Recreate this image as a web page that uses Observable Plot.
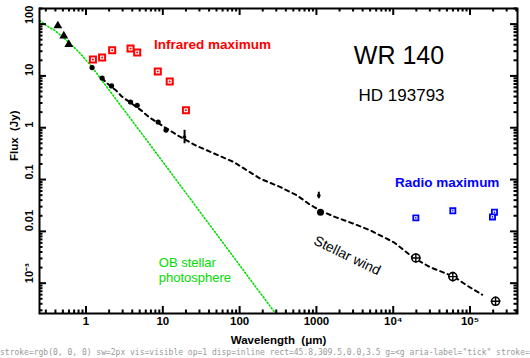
<!DOCTYPE html>
<html><head><meta charset="utf-8">
<script src="https://cdn.jsdelivr.net/npm/d3@7"></script>
<script src="https://cdn.jsdelivr.net/npm/@observablehq/plot@0.6"></script>
<style>body{margin:0;background:#fff} #chart svg{font-family:'Liberation Sans', Arial, sans-serif !important;background:#fff} #dbg{position:absolute;left:0;top:348px;font:8px monospace;color:#999;white-space:nowrap}</style>
</head><body><div id="chart"></div><div id="dbg"></div>
<script>
// ---- data (wavelength in µm, flux in Jy) ----
const triangleWl = [0.43, 0.514, 0.597];
const triangleFlux = [92.7, 59.4, 40.5];

const dotWl = [1.2, 1.62, 2.15, 3.8, 4.64, 8.7, 11.0];
const dotFlux = [14.5, 9.1, 6.4, 3.14, 2.71, 1.29, 0.90];

const errWl = [19.2, 1075];
const errFlux = [0.66, 0.049];
const errLo = [0.49, 0.0426];
const errHi = [0.89, 0.057];

const blobWl = [1130];
const blobFlux = [0.0234];

const circPlusWl = [19700, 59700, 215000];
const circPlusFlux = [0.00307, 0.00134, 0.000447];

const irWl = [1.23, 1.62, 2.19, 3.8, 4.64, 8.6, 12.3, 20];
const irFlux = [20.8, 22.7, 31.4, 33.9, 28.3, 12.2, 7.8, 2.17];

const radioWl = [19700, 59700, 208000, 196000];
const radioFlux = [0.0182, 0.0249, 0.0234, 0.019];

const windWl = [1.62, 1.83, 2.47, 2.9, 5.28, 6.57, 10, 15.9, 26.7, 84, 187, 341, 562, 796, 1130, 1774, 3070, 5060, 10200, 18500, 30600, 61500, 92000, 144000];
const windFlux = [9.1, 7.45, 5.22, 4.05, 2.14, 1.61, 1.08, 0.70, 0.457, 0.217, 0.1035, 0.0713, 0.0492, 0.034, 0.025, 0.0188, 0.014, 0.0104, 0.00615, 0.00307, 0.00202, 0.00134, 0.000895, 0.0006];

const photoWl = [0.25, 0.297, 0.40, 0.569, 0.806, 1.2, 1.545, 7.63, 247, 300];
const photoFlux = [118, 95.7, 74, 47.5, 29.1, 14.9, 8.9, 0.377, 0.000367, 0.00025];

const xTickValues = [1, 10, 100, 1000, 1e4, 1e5];
const xTickLabels = ["1", "10", "100", "1000", "10\u2074", "10\u2075"];
const yTickValues = [100, 10, 1, 0.1, 0.01, 0.001];
const yTickLabels = ["100", "10", "1", "0.1", "0.01", "10\u207B\u00B3"];

const xDomain = [0.248, 4.15e5];
const yDomain = [2.6e-4, 200];

// ---- layout ----
const W = 530, H = 358, mL = 39, mR = 13, mT = 8, mB = 45;
const pw = W - mL - mR, ph = H - mT - mB;

// ---- tables ----
const zip = (xs, ys) => xs.map((x, i) => ({x, y: ys[i]}));
const tri = zip(triangleWl, triangleFlux);
const dots = zip(dotWl, dotFlux);
const errs = errWl.map((x, i) => ({x, y: errFlux[i], lo: errLo[i], hi: errHi[i]}));
const blobs = zip(blobWl, blobFlux);
const cplus = zip(circPlusWl, circPlusFlux);
const ir = zip(irWl, irFlux);
const radio = zip(radioWl, radioFlux);
const wind = zip(windWl, windFlux);
const photo = zip(photoWl, photoFlux);
const xTicks = xTickValues.map((v, i) => ({v, t: xTickLabels[i]}));
const yTicks = yTickValues.map((v, i) => ({v, t: yTickLabels[i]}));

function minors(lo, hi) {
  const out = [];
  for (let e = -4; e <= 6; e++) for (let k = 2; k <= 9; k++) {
    const v = +(k * Math.pow(10, e)).toPrecision(6);
    if (v >= lo && v <= hi) out.push({v});
  }
  return out;
}
const xMinor = minors(xDomain[0], xDomain[1]);
const yMinor = minors(yDomain[0], yDomain[1]);

const boldNotes = [
  {x: 44.4, y: 39.3, t: "Infrared maximum", c: "#ff0000"},
  {x: 50500, y: 0.0879, t: "Radio maximum", c: "#0000ff"}
];

const green = "#00dd00";

// inward ticks of fixed pixel length along the four frame edges
function frameTicks(xs, ys, len) {
  return [
    Plot.tickX(xs, {x: "v", insetTop: ph - len, stroke: "#000000", strokeWidth: 2}),
    Plot.tickX(xs, {x: "v", insetBottom: ph - len, stroke: "#000000", strokeWidth: 2}),
    Plot.tickY(ys, {y: "v", insetRight: pw - len, stroke: "#000000", strokeWidth: 2}),
    Plot.tickY(ys, {y: "v", insetLeft: pw - len, stroke: "#000000", strokeWidth: 2})
  ];
}

let msg = "";
const chart = Plot.plot({
  width: W, height: H,
  marginLeft: mL, marginRight: mR, marginTop: mT, marginBottom: mB,
  x: {type: "log", domain: xDomain, axis: null},
  y: {type: "log", domain: yDomain, axis: null},
  marks: [
    // tick labels
    Plot.text(xTicks, {x: "v", text: "t", frameAnchor: "bottom", dy: 11, fontSize: 11.5, fontWeight: "bold"}),
    Plot.text(yTicks, {y: "v", text: "t", frameAnchor: "left", dx: -10, rotate: -90, fontSize: 11, fontWeight: "bold"}),
    Plot.text(["Wavelength  (\u03BCm)"], {text: d => d, frameAnchor: "bottom", dy: 30, fontSize: 11.5, fontWeight: "bold"}),
    Plot.text(["Flux  (Jy)"], {text: d => d, frameAnchor: "left", dx: -25, rotate: -90, fontSize: 11.5, fontWeight: "bold"}),
    // curves
    Plot.line(photo, {x: "x", y: "y", stroke: green, strokeWidth: 1.6, strokeDasharray: "1.2,2.2", clip: true}),
    Plot.line(wind, {x: "x", y: "y", stroke: "black", strokeWidth: 2, strokeDasharray: "4,4"}),
    // data
    Plot.dot(tri, {x: "x", y: "y", symbol: "triangle", fill: "black", r: 3.3}),
    Plot.dot(dots, {x: "x", y: "y", fill: "black", r: 2.6}),
    Plot.ruleX(errs, {x: "x", y1: "lo", y2: "hi", stroke: "black", strokeWidth: 2}),
    Plot.dot(errs, {x: "x", y: "y", fill: "black", r: 1.8}),
    Plot.dot(blobs, {x: "x", y: "y", fill: "black", r: 3.5}),
    Plot.dot(cplus, {x: "x", y: "y", stroke: "black", fill: "white", strokeWidth: 1.6, r: 4}),
    Plot.dot(cplus, {x: "x", y: "y", symbol: "plus", stroke: "black", strokeWidth: 1.4, r: 3.2}),
    Plot.dot(ir, {x: "x", y: "y", symbol: "square", stroke: "#ff0000", fill: "white", strokeWidth: 2, r: 3.4}),
    Plot.dot(ir, {x: "x", y: "y", fill: "#ff0000", r: 1}),
    Plot.dot(radio, {x: "x", y: "y", symbol: "square", stroke: "#0000ff", fill: "white", strokeWidth: 1.8, r: 2.9}),
    Plot.dot(radio, {x: "x", y: "y", fill: "#0000ff", r: 0.8}),
    // annotations
    Plot.text(boldNotes, {x: "x", y: "y", text: "t", fill: "c", fontSize: 13.5, fontWeight: "bold"}),
    Plot.text(["WR 140"], {text: d => d, x: () => 11900, y: () => 24.6, fontSize: 25, fill: "black"}),
    Plot.text(["HD 193793"], {text: d => d, x: () => 12830, y: () => 4.14, fontSize: 17, fill: "black"}),
    Plot.text(["Stellar wind"], {text: d => d, x: () => 2518, y: () => 0.0034, rotate: 26, fontSize: 14, fill: "black"}),
    Plot.text(["OB stellar\nphotosphere"], {text: d => d, x: () => 8.87, y: () => 0.00181, textAnchor: "start", fill: green, fontSize: 13, lineHeight: 1.15}),
    // frame and inward ticks, on top of everything
    Plot.frame({stroke: "black", fill: "none", strokeWidth: 2}),
    ...frameTicks(xMinor, yMinor, 3.5),
    ...frameTicks(xTicks, yTicks, 7)
  ]
});
document.getElementById("chart").appendChild(chart);
try {
  const l = chart.querySelector('g[aria-label="tick"] line');
  if (l) {
    const cs = getComputedStyle(l);
    const r = l.getBoundingClientRect();
    msg += "stroke=" + cs.stroke + " sw=" + cs.strokeWidth + " vis=" + cs.visibility + " op=" + cs.opacity + " disp=" + cs.display +
      " rect=" + [r.x, r.y, r.width, r.height].map(v => v.toFixed(1)).join(",") +
      " g=" + (l.parentNode.outerHTML.slice(0, 140).replace(/<line[\s\S]*/, ""));
    const top = document.elementFromPoint(r.x + r.width / 2, r.y + 1);
    msg += " top=" + (top ? top.tagName + (top.parentNode && top.parentNode.getAttribute ? ":" + top.parentNode.getAttribute("aria-label") : "") : "none");
  }
} catch (e) { msg += "ERR " + e.message; }
document.getElementById("dbg").textContent = msg;
</script>
</body></html>
